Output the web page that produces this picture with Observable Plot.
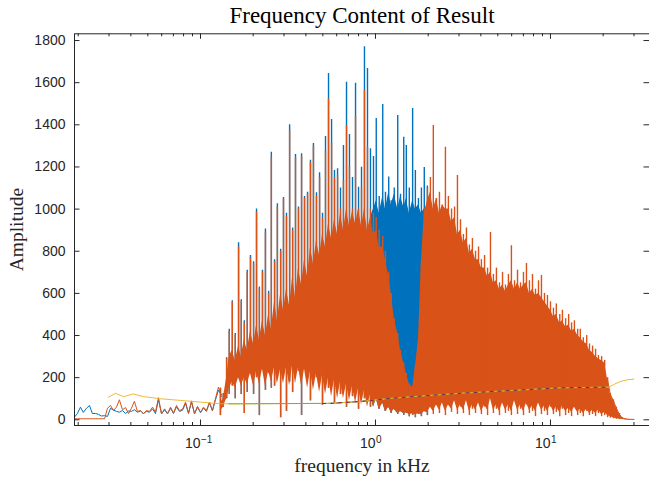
<!DOCTYPE html>
<html><head><meta charset="utf-8">
<script src="https://cdn.jsdelivr.net/npm/d3@7"></script>
<script src="https://cdn.jsdelivr.net/npm/@observablehq/plot@0.6"></script>
<style>html,body{margin:0;padding:0;background:#fff;} #chart svg{display:block}</style>
</head><body><div id="chart"></div>
<script>
// ---- data (kHz, amplitude) ----
const lowFreq = [0.0190,0.0198,0.0206,0.0214,0.0223,0.0232,0.0241,0.0251,0.0261,0.0272,
 0.0283,0.0294,0.0306,0.0318,0.0331,0.0344,0.0358,0.0373,0.0388,0.0403,
 0.0419,0.0436,0.0454,0.0472,0.0491,0.0511,0.0532,0.0553,0.0575,0.0599,
 0.0623,0.0648,0.0674,0.0701,0.0729,0.0758,0.0789,0.0821,0.0854,0.0888,
 0.0924,0.0961,0.1000,0.1040,0.1081,0.1125,0.1170,0.1217,0.1266,0.1317];
const lowBlue = [12,30,60,35,55,68,30,30,26,18,
 20,16,55,46,40,36,44,30,42,40,
 48,36,42,30,40,36,52,30,95,28,
 48,28,55,30,62,40,45,78,30,85,
 28,60,34,56,40,80,42,95,140,120];
const lowOrange = [5,5,5,5,5,5,5,5,5,5,
 5,55,68,44,60,95,48,58,30,55,
 88,40,44,28,44,40,60,36,105,28,
 52,30,60,32,68,44,50,84,32,90,
 30,64,36,60,44,84,45,100,155,110];

// dense spectrum, one column per frequency step
const colFreq = [0.130,0.135,0.141,0.146,0.152,0.158,0.165,0.171,0.178,0.185,
 0.193,0.201,0.209,0.217,0.226,0.235,0.245,0.254,0.265,0.275,
 0.287,0.298,0.310,0.323,0.336,0.349,0.363,0.378,0.393,0.409,
 0.425,0.442,0.460,0.479,0.498,0.518,0.539,0.561,0.583,0.607,
 0.631,0.656,0.683,0.710,0.739,0.769,0.800,0.832,0.865,0.900,
 0.936,0.974,1.01,1.05,1.10,1.14,1.19,1.23,1.28,1.34,
 1.39,1.45,1.50,1.56,1.63,1.69,1.76,1.83,1.90,1.98,
 2.06,2.14,2.23,2.32,2.41,2.51,2.61,2.72,2.83,2.94,
 3.06,3.18,3.31,3.44,3.58,3.73,3.88,4.03,4.20,4.37,
 4.54,4.72,4.91,5.11,5.32,5.53,5.75,5.98,6.23,6.48,
 6.74,7.01,7.29,7.58,7.89,8.21,8.54,8.88,9.24,9.61,
 10.0,10.4,10.8,11.3,11.7,12.2,12.7,13.2,13.7,14.3,
 14.8,15.4,16.1,16.7,17.4,18.1,18.8,19.6,20.4,21.2,
 22.0,22.9,23.8,24.8,25.8,26.8,27.9,29.0,30.0];
// orange: spike maxima / minima
const orangeHi = [150,120,290,420,560,400,820,560,460,700,
 770,740,985,620,700,890,600,1246,750,1009,
 800,1049,965,1377,900,1245,1000,1250,1050,1073,
 1222,1300,1060,1150,960,1273,1524,1311,1150,1160,
 1000,1136,1397,1199,1000,1439,1000,1100,1563,1294,
 1000,980,960,900,870,800,700,600,480,410,
 330,270,220,170,160,260,380,750,1000,1100,
 1150,1397,1050,1080,1020,1293,1060,1000,1010,1160,
 950,880,910,830,860,800,820,760,780,720,
 889,690,720,650,700,640,690,826,660,710,
 650,700,742,660,690,620,660,685,600,590,
 560,530,550,500,520,480,500,460,470,430,
 430,390,400,360,350,335,305,300,282,200,
 125,95,60,30,10,5,3,2,2];
const orangeLo = [20,60,100,120,160,100,200,120,30,130,
 250,120,200,20,280,140,220,150,160,240,
 10,260,40,180,130,300,230,20,350,260,
 90,380,200,300,70,260,150,300,80,220,
 120,260,60,200,110,240,50,180,100,230,
 60,150,200,50,120,40,100,30,60,25,
 40,20,30,15,20,10,25,15,40,20,
 60,25,90,30,120,20,70,35,100,25,
 60,30,110,20,50,30,90,25,60,20,
 130,30,50,20,80,30,40,20,100,25,
 50,20,70,30,40,15,90,25,40,20,
 60,25,35,15,50,20,30,15,60,20,
 30,15,40,20,25,15,30,15,20,10,
 8,5,3,2,1,0,0,0,0];
// orange: densely filled part of each column
const orangeBodyHi = [80,100,200,300,330,280,350,300,380,330,
 420,360,450,380,470,400,500,430,560,470,
 600,520,620,540,680,580,720,640,760,680,
 820,740,850,780,880,820,930,860,950,880,
 980,900,1000,920,990,930,1000,920,1000,900,
 960,880,900,820,820,760,680,600,480,410,
 330,270,220,170,155,250,380,750,980,1040,
 1080,1000,1050,980,1020,1000,1000,940,960,880,
 900,840,860,790,810,760,760,720,720,680,
 700,650,660,620,640,610,640,660,620,650,
 620,640,650,600,620,590,600,580,560,540,
 520,490,500,460,470,440,450,420,430,400,
 390,370,360,330,320,300,290,280,270,190,
 120,90,55,25,8,4,2,2,2];
const orangeBodyLo = [40,60,100,150,180,150,200,160,200,170,
 220,160,230,170,240,160,230,180,250,170,
 240,170,250,160,260,170,250,160,240,150,
 230,140,220,130,210,120,200,110,190,100,
 180,100,170,90,160,80,150,70,140,60,
 120,60,100,50,80,40,60,35,50,30,
 40,30,35,25,30,25,30,25,40,35,
 60,40,70,45,80,40,70,50,90,45,
 70,45,90,40,70,45,80,40,70,45,
 100,45,70,40,80,45,70,40,90,45,
 70,40,80,45,65,40,80,45,65,40,
 70,40,60,35,65,40,55,35,60,35,
 50,30,50,30,45,30,45,25,35,20,
 15,10,5,3,1,0,0,0,0];
// blue: spike maxima (up to 2 kHz; above that it lies under the orange)
const blueHi = [150,125,295,430,565,410,840,570,470,710,
 780,750,1000,630,710,905,610,1270,760,1025,
 810,1055,980,1400,910,1259,1010,1263,1060,1080,
 1232,1311,1078,1173,980,1344,1643,1425,1183,1192,
 1100,1302,1602,1354,1150,1597,1104,1199,1771,1667,
 1287,1250,1430,1060,1496,1080,1152,1040,1100,1444,
 1070,1341,1302,1100,1477,1183,1050,1100,1198,1110];
// blue: densely filled part between 0.94 and 1.98 kHz
const blueBodyFreq = [0.936,0.974,1.01,1.05,1.10,1.14,1.19,1.23,1.28,1.34,
 1.39,1.45,1.50,1.56,1.63,1.69,1.76,1.83,1.90,1.98];
const blueBodyHi = [960,1000,1040,980,1060,1000,1080,1020,1070,1000,
 1060,1010,1050,980,1040,1000,1020,980,1000,1000];
const blueBodyLo = [120,60,100,50,80,40,60,35,50,30,
 40,30,35,25,30,25,30,25,40,35];

const yellowFreq = [0.0298,0.0327,0.0363,0.0414,0.0472,0.0591,0.0769,0.100,0.130,0.169,0.287,0.553,0.821,1.27,1.98,3.06,5.91,11.4,21.5,22.9,25.1,27.5,30.0];
const yellowVal  = [107,126,110,123,110,100,92,84,76,76,77,78,87,103,115,126,139,152,155,167,182,190,193];
const greenFreq = [0.145,0.169,0.287,0.553,0.821,1.27,1.98,3.06,5.91,11.4,21.5];
const greenVal  = [76,76,77,78,87,103,115,126,139,152,155];
const dashFreq = [0.485,0.553,0.821,1.27,1.98,3.06,5.91,11.4,21.5];
const dashVal  = [77,78,87,103,115,126,139,152,155];

const yTicks = [0,200,400,600,800,1000,1200,1400,1600,1800];
const xMajor = [0.1,1,10];
const xMajorExp = ["\u22121","0","1"];
const xMinor = [0.02,0.03,0.04,0.05,0.06,0.07,0.08,0.09,0.2,0.3,0.4,0.5,0.6,0.7,0.8,0.9,2,3,4,5,6,7,8,9,20,30];

// ---- build ----
const C = {blue:"#0072BD", orange:"#D95319", yellow:"#EDB120", purple:"#7E2F8E", green:"#77AC30", red:"#A2142F", ax:"#262626"};
const W = 649, H = 478, mL = 74, mR = 0, mT = 33.3, mB = 53;
const pW = W - mL - mR, pH = H - mT - mB;

const lowData = lowFreq.map((f,i)=>({f, b: lowBlue[i], o: lowOrange[i]}));
const orangeCols = colFreq.map((f,i)=>({f, lo: orangeLo[i], hi: orangeHi[i], blo: orangeBodyLo[i], bhi: orangeBodyHi[i]}));
const blueCols = blueHi.map((h,i)=>({f: colFreq[i], lo: orangeLo[i], hi: h}));
const blueBody = blueBodyFreq.map((f,i)=>({f, lo: blueBodyLo[i], hi: blueBodyHi[i]}));
const yellowData = yellowFreq.map((f,i)=>({f, v: yellowVal[i]}));
const greenData = greenFreq.map((f,i)=>({f, v: greenVal[i]}));
const dashData = dashFreq.map((f,i)=>({f, v: dashVal[i]}));

const plot = Plot.plot({
  width: W, height: H,
  marginLeft: mL, marginRight: mR, marginTop: mT, marginBottom: mB,
  x: {type: "log", domain: [0.01905, 36.8], axis: null},
  y: {domain: [-27, 1832], axis: null},
  style: {background: "#fff", fontFamily: "Liberation Sans, Arial, sans-serif", color: C.ax, overflow: "visible"},
  marks: [
    // series 1 (blue)
    Plot.areaY(blueBody, {x: "f", y1: "lo", y2: "hi", fill: C.blue, clip: true}),
    Plot.ruleX(blueCols, {x: "f", y1: "lo", y2: "hi", stroke: C.blue, strokeWidth: 1.4, clip: true}),
    Plot.line(lowData, {x: "f", y: "b", stroke: C.blue, strokeWidth: 1, clip: true}),
    // series 2 (orange)
    Plot.areaY(orangeCols, {x: "f", y1: "blo", y2: "bhi", fill: C.orange, clip: true}),
    Plot.ruleX(orangeCols, {x: "f", y1: "lo", y2: "hi", stroke: C.orange, strokeWidth: 1.4, clip: true}),
    Plot.line(orangeCols.slice(-10), {x: "f", y: "bhi", stroke: C.orange, strokeWidth: 1, clip: true}),
    Plot.line(lowData, {x: "f", y: "o", stroke: C.orange, strokeWidth: 1, clip: true}),
    // smooth reference curves
    Plot.line(yellowData, {x: "f", y: "v", stroke: C.yellow, strokeWidth: 0.9, clip: true}),
    Plot.line(greenData, {x: "f", y: "v", stroke: C.green, strokeWidth: 0.9, clip: true}),
    Plot.line(dashData, {x: "f", y: "v", stroke: C.purple, strokeWidth: 1, strokeDasharray: "3 5", clip: true}),
    Plot.line(dashData, {x: "f", y: "v", stroke: C.red, strokeWidth: 1, strokeDasharray: "2 6", strokeDashoffset: 5, clip: true}),
    Plot.line(dashData, {x: "f", y: "v", stroke: C.yellow, strokeWidth: 1, strokeDasharray: "2 6", strokeDashoffset: 1, clip: true}),
    // axes box and ticks
    Plot.frame({stroke: C.ax, strokeWidth: 1}),
    Plot.ruleX(xMajor, {x: d=>d, insetTop: pH - 5.5, stroke: C.ax}),
    Plot.ruleX(xMajor, {x: d=>d, insetBottom: pH - 5.5, stroke: C.ax}),
    Plot.ruleX(xMinor, {x: d=>d, insetTop: pH - 3, stroke: C.ax}),
    Plot.ruleX(xMinor, {x: d=>d, insetBottom: pH - 3, stroke: C.ax}),
    Plot.ruleY(yTicks, {y: d=>d, insetRight: pW - 5.5, stroke: C.ax}),
    Plot.ruleY(yTicks, {y: d=>d, insetLeft: pW - 5.5, stroke: C.ax}),
    // tick labels
    Plot.text(yTicks, {y: d=>d, text: d=>String(d), frameAnchor: "left", dx: -9, textAnchor: "end", fontSize: 14, fill: C.ax}),
    Plot.text(xMajor, {x: d=>d, text: ()=>"10", frameAnchor: "bottom", dy: 22, textAnchor: "end", fontSize: 14, fill: C.ax}),
    Plot.text(xMajor, {x: d=>d, text: (d,i)=>xMajorExp[i], frameAnchor: "bottom", dy: 17, dx: 0.5, textAnchor: "start", fontSize: 10, fill: C.ax}),
    // titles
    Plot.text(["Frequency Content of Result"], {text: d=>d, frameAnchor: "top", lineAnchor: "bottom", dy: -10.6, fontSize: 23, fontFamily: "Liberation Serif, serif", fill: "#000"}),
    Plot.text(["frequency in kHz"], {text: d=>d, frameAnchor: "bottom", lineAnchor: "bottom", dy: 46.5, fontSize: 19.5, fontFamily: "Liberation Serif, serif", fill: C.ax}),
    Plot.text(["Amplitude"], {text: d=>d, frameAnchor: "left", textAnchor: "middle", lineAnchor: "bottom", rotate: -90, dx: -52, fontSize: 19.5, fontFamily: "Liberation Serif, serif", fill: C.ax})
  ]
});
document.getElementById("chart").append(plot);
</script></body></html>
